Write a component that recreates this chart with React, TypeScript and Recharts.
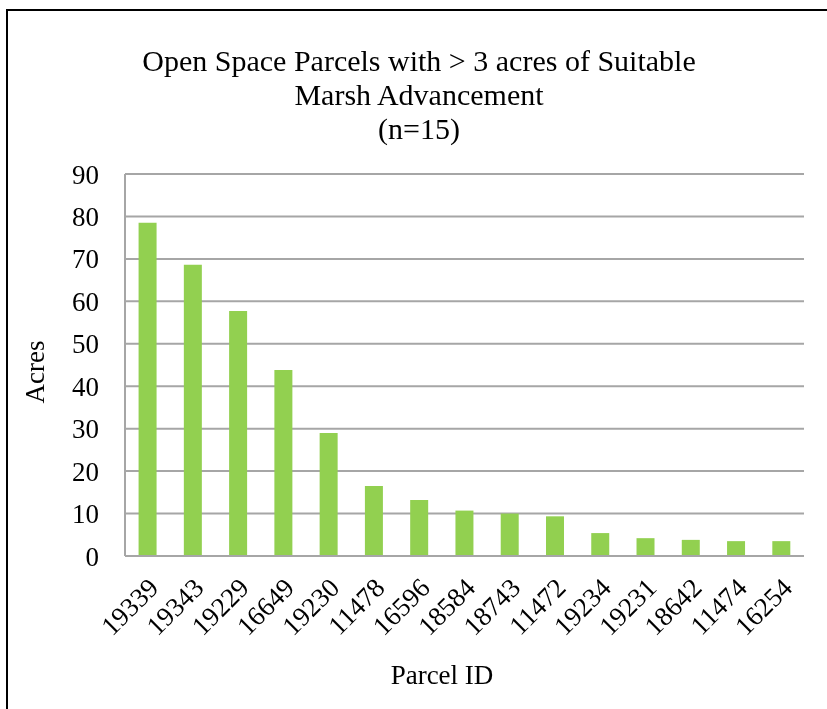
import React from "react";
import { BarChart, Bar, XAxis, YAxis, CartesianGrid } from "recharts";

const parcelIds = ["19339", "19343", "19229", "16649", "19230", "11478", "16596", "18584", "18743", "11472", "19234", "19231", "18642", "11474", "16254"];
const acres = [78.5, 68.6, 57.7, 43.8, 29.0, 16.5, 13.2, 10.7, 10.0, 9.35, 5.4, 4.2, 3.8, 3.5, 3.5];
const yTicks = [0, 10, 20, 30, 40, 50, 60, 70, 80, 90];
const titleLines = ["Open Space Parcels with > 3 acres of Suitable", "Marsh Advancement", "(n=15)"];

const data = parcelIds.map((id, i) => ({ id, acres: acres[i] }));

const FONT = "'Liberation Serif', serif";

const XTick = (props: any) => {
  const { x, y, payload } = props;
  return (
    <g transform={`translate(${x + 6},${y + 19})`}>
      <text
        x={0}
        y={0}
        transform="rotate(-45)"
        textAnchor="end"
        fontFamily={FONT}
        fontSize={27}
        fill="#000"
        dominantBaseline="central"
      >
        {payload.value}
      </text>
    </g>
  );
};

export default function App() {
  return (
    <div style={{ position: "relative", width: 819, height: 701 }}>
      <div
        style={{
          position: "fixed",
          left: 6,
          top: 9,
          width: 1000,
          height: 1000,
          border: "2px solid #000",
          boxSizing: "border-box",
        }}
      />
      <div
        style={{
          position: "absolute",
          left: 0,
          top: 0,
          width: 819,
          height: 701,
        }}
      >
        <BarChart
          width={819}
          height={701}
          data={data}
          margin={{ top: 166, right: 23, bottom: 53, left: 57 }}
          barCategoryGap="30%"
        >
          <CartesianGrid vertical={false} stroke="#A6A6A6" strokeWidth={2} />
          <XAxis
            dataKey="id"
            interval={0}
            height={100}
            tickLine={false}
            axisLine={{ stroke: "#A6A6A6", strokeWidth: 2 }}
            tick={<XTick />}
          />
          <YAxis
            width={60}
            domain={[0, 90]}
            ticks={yTicks}
            interval={0}
            tickLine={false}
            tickSize={0}
            tickMargin={26}
            axisLine={{ stroke: "#A6A6A6", strokeWidth: 2 }}
            tick={{ fontFamily: FONT, fontSize: 27, fill: "#000" }}
          />
          <Bar dataKey="acres" fill="#92D050" isAnimationActive={false} />
        </BarChart>
      </div>
      <div
        style={{
          position: "absolute",
          left: 11,
          top: 36,
          width: 800,
          textAlign: "center",
          fontFamily: FONT,
          fontSize: 30,
          lineHeight: "34px",
          color: "#000",
        }}
      >
        {titleLines.map((t) => (
          <div key={t}>{t}</div>
        ))}
      </div>
      <div
        style={{
          position: "absolute",
          left: 334,
          top: 652,
          width: 200,
          textAlign: "center",
          fontFamily: FONT,
          fontSize: 27,
          color: "#000",
        }}
      >
        Parcel ID
      </div>
      <div
        style={{
          position: "absolute",
          left: 27,
          top: 364,
          width: 0,
          height: 0,
        }}
      >
        <div
          style={{
            position: "absolute",
            left: -50,
            top: -16,
            width: 100,
            textAlign: "center",
            fontFamily: FONT,
            fontSize: 27,
            lineHeight: "32px",
            transform: "rotate(-90deg)",
            color: "#000",
          }}
        >
          Acres
        </div>
      </div>
    </div>
  );
}
